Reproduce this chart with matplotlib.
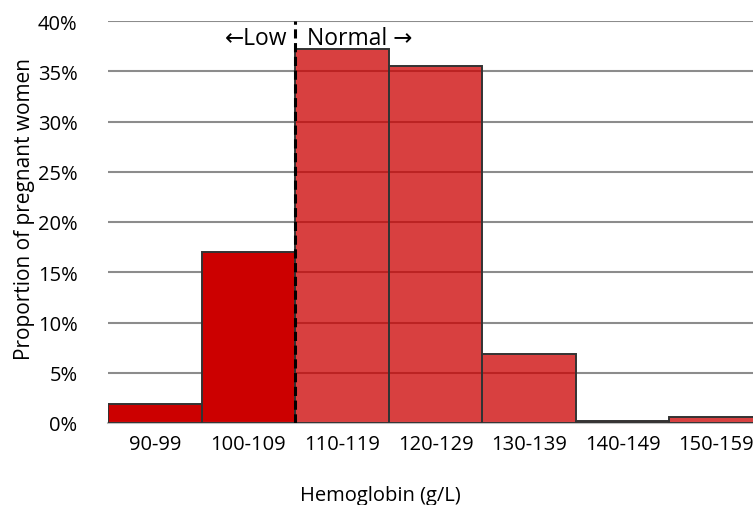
import matplotlib
matplotlib.use('Agg')
import matplotlib.pyplot as plt
from matplotlib.ticker import PercentFormatter

plt.rcParams['font.family'] = ['Open Sans', 'DejaVu Sans']

categories = ['90-99', '100-109', '110-119', '120-129', '130-139', '140-149', '150-159']
proportions = [1.9, 17.0, 37.2, 35.5, 6.9, 0.2, 0.6]
low_flags = [True, True, False, False, False, False, False]

fig = plt.figure(figsize=(7.53, 5.06), dpi=100)
ax = fig.add_axes([108 / 753, 82 / 506, 655 / 753, 402 / 506])

ax.set_axisbelow(True)
ax.yaxis.grid(True, color='#8c8c8c', linewidth=1.5)

for i, (cat, val, low) in enumerate(zip(categories, proportions, low_flags)):
    alpha = 1.0 if low else 0.75
    ax.bar(i, val, width=1.0, color='#cc0000', alpha=alpha, zorder=2)
    ax.bar(i, val, width=1.0, fill=False, edgecolor='#333333', linewidth=1.4, zorder=3)

# cut-off between low and normal hemoglobin
ax.axvline(1.5, color='black', linestyle=(0, (3, 1.5)), linewidth=2.2, zorder=4)
ax.text(1.42, 38.3, '\u2190Low', ha='right', va='center', fontsize=16.5)
ax.text(1.63, 38.3, 'Normal \u2192', ha='left', va='center', fontsize=16.5)

ax.set_xlim(-0.5, 6.5)
ax.set_ylim(0, 40)
ax.set_yticks(range(0, 41, 5))
ax.yaxis.set_major_formatter(PercentFormatter(decimals=0))
ax.set_xticks(range(len(categories)))
ax.set_xticklabels(categories, fontsize=14.5)
ax.tick_params(axis='y', length=0, pad=22, labelsize=14.5)
ax.tick_params(axis='x', length=0, pad=8)

for side in ['top', 'right', 'left']:
    ax.spines[side].set_visible(False)
ax.spines['bottom'].set_color('#bfbfbf')
ax.spines['bottom'].set_linewidth(1.5)

ax.set_ylabel('Proportion of pregnant women', fontsize=15)
ax.yaxis.set_label_coords(-0.112, 0.535)
ax.set_xlabel('Hemoglobin (g/L)', fontsize=14.5)
ax.xaxis.set_label_coords((380 - 108) / 655, -0.155)

fig.savefig('out.png', dpi=100)
